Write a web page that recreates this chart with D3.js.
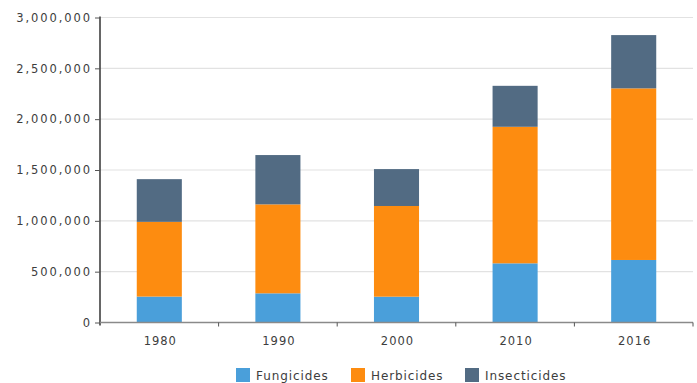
<!DOCTYPE html>
<html>
<head>
<meta charset="utf-8">
<script src="https://cdn.jsdelivr.net/npm/d3@7"></script>
<style>
  html, body { margin: 0; padding: 0; background: #fff; }
  svg { display: block; }
  text { font-family: "DejaVu Sans", sans-serif; fill: #3d3d3d; }
</style>
</head>
<body>
<svg id="chart" width="697" height="383"></svg>
<script>
// Pesticide use by type, per year
const years = ["1980", "1990", "2000", "2010", "2016"];
const seriesNames = ["Fungicides", "Herbicides", "Insecticides"];
const fungicides   = [255000, 287000, 254000, 582000, 615000];
const herbicides   = [735000, 875000, 892000, 1343000, 1688000];
const insecticides = [420000, 485000, 363000, 403000, 524000];
const yTicks = [0, 500000, 1000000, 1500000, 2000000, 2500000, 3000000];
const colors = ["#4a9fda", "#fd8c10", "#526b83"];

const rows = years.map((y, i) => ({
  year: y,
  Fungicides: fungicides[i],
  Herbicides: herbicides[i],
  Insecticides: insecticides[i]
}));

const svg = d3.select("#chart");
const plotLeft = 100, plotRight = 693, plotTop = 17.5, plotBottom = 322.5;

const x = d3.scaleBand().domain(years).range([plotLeft, plotRight])
  .paddingInner(0.62).paddingOuter(0.31);
const y = d3.scaleLinear().domain([0, 3000000]).range([plotBottom, plotTop]);
const color = d3.scaleOrdinal().domain(seriesNames).range(colors);

// horizontal gridlines
svg.append("g").selectAll("line").data(yTicks.slice(1)).join("line")
  .attr("x1", plotLeft).attr("x2", plotRight)
  .attr("y1", d => y(d)).attr("y2", d => y(d))
  .attr("stroke", "#e2e2e2").attr("stroke-width", 1.2);

// stacked bars
const stack = d3.stack().keys(seriesNames)(rows);
svg.append("g").selectAll("g").data(stack).join("g")
  .attr("fill", d => color(d.key))
  .selectAll("rect").data(d => d).join("rect")
  .attr("x", d => x(d.data.year))
  .attr("width", x.bandwidth())
  .attr("y", d => y(d[1]))
  .attr("height", d => y(d[0]) - y(d[1]));

// y axis
const yAxis = d3.axisLeft(y).tickValues(yTicks)
  .tickFormat(d3.format(",")).tickSize(5).tickPadding(3.1);
const gy = svg.append("g").attr("transform", `translate(${plotLeft},0)`).call(yAxis);
gy.select(".domain").attr("stroke", "#333").attr("stroke-width", 1.5)
  .attr("d", `M0,${plotTop - 1}V${plotBottom + 3}`);
gy.selectAll(".tick line").attr("stroke", "#555");
gy.selectAll("text").attr("font-size", 11.5).attr("letter-spacing", 1.9)
  .attr("font-family", "DejaVu Sans").attr("fill", "#3d3d3d");

// x baseline with ticks at category boundaries
const step = x.step();
const bounds = d3.range(years.length + 1).map(i => plotLeft + i * step);
svg.append("line").attr("x1", plotLeft).attr("x2", plotRight)
  .attr("y1", plotBottom).attr("y2", plotBottom)
  .attr("stroke", "#8a8a8a").attr("stroke-width", 1.5);
svg.append("g").selectAll("line").data(bounds.slice(1)).join("line")
  .attr("x1", d => d).attr("x2", d => d)
  .attr("y1", plotBottom).attr("y2", plotBottom + 4)
  .attr("stroke", "#555");

// category labels
svg.append("g").selectAll("text").data(years).join("text")
  .attr("x", d => x(d) + x.bandwidth() / 2 + 1)
  .attr("y", plotBottom + 22)
  .attr("text-anchor", "middle")
  .attr("font-size", 11.5).attr("letter-spacing", 1.0)
  .text(d => d);

// legend
const legendX = [236, 351, 465];
const lg = svg.append("g").selectAll("g").data(seriesNames).join("g")
  .attr("transform", (d, i) => `translate(${legendX[i]},368)`);
lg.append("rect").attr("width", 14).attr("height", 14).attr("fill", d => color(d));
lg.append("text").attr("x", 20).attr("y", 11.5)
  .attr("font-size", 12).attr("letter-spacing", 0.9)
  .text(d => d);
</script>
</body>
</html>
